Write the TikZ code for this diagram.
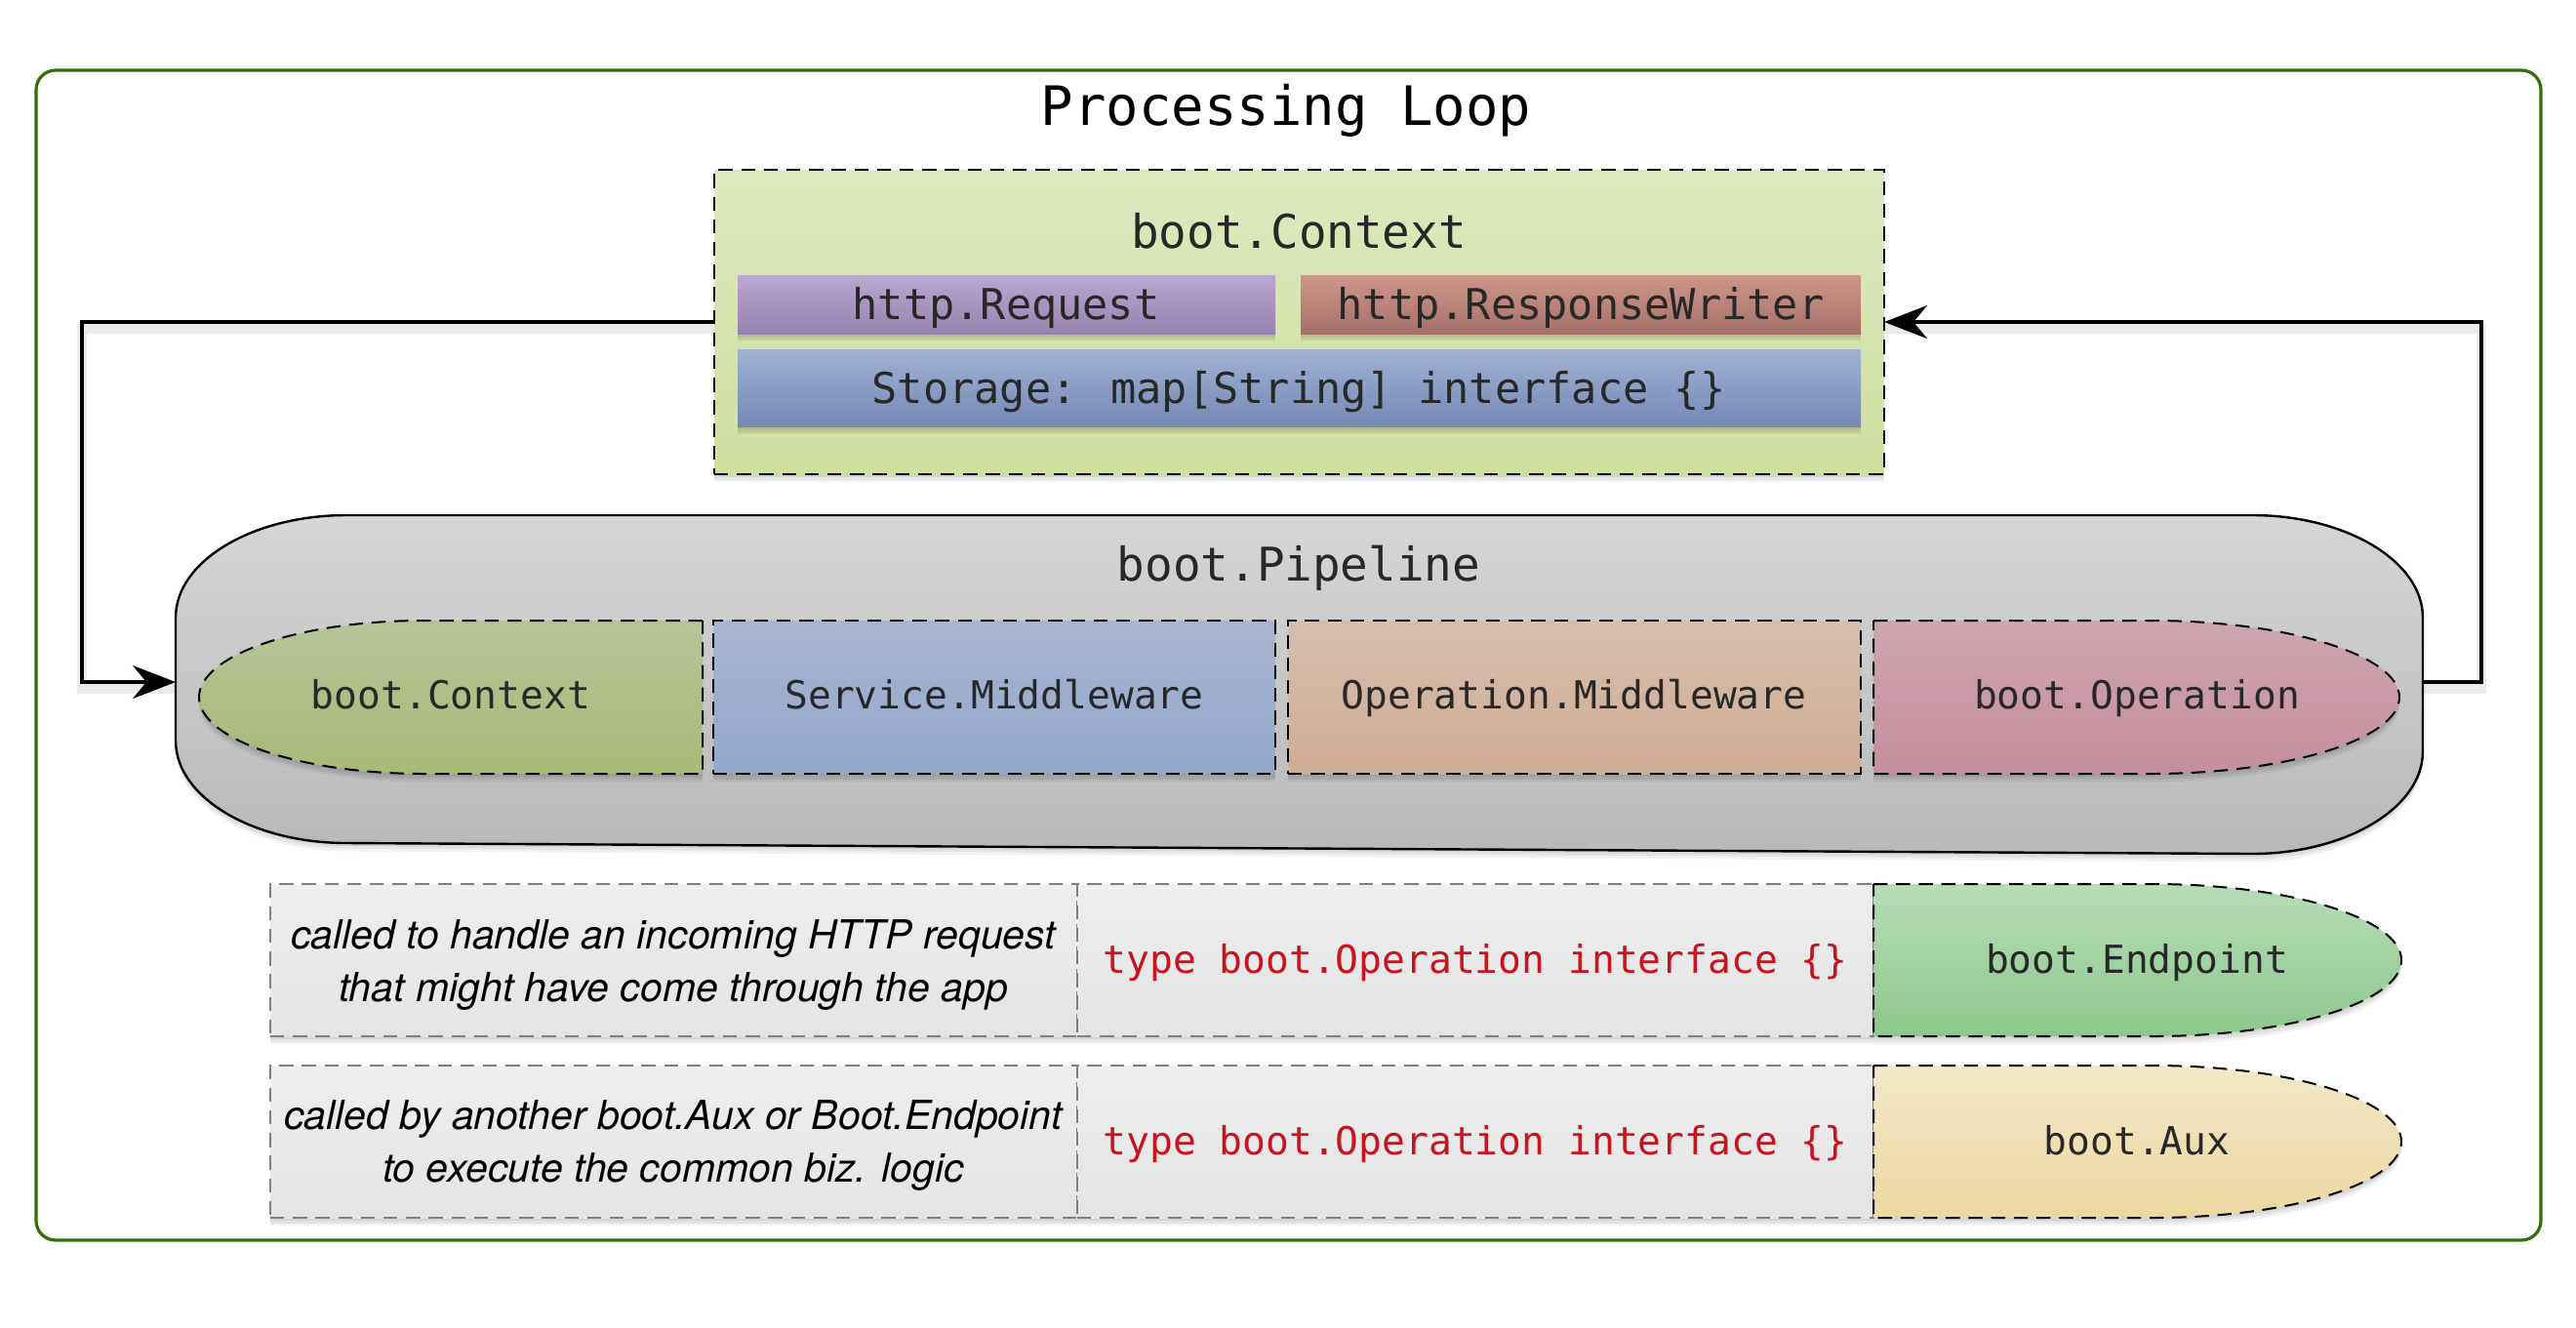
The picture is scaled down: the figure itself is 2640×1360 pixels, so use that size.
\documentclass[tikz,border=0pt]{standalone}
\usepackage{fontspec}
\newfontfamily\monof{DejaVu Sans Mono}
\newfontfamily\helvf{TeX Gyre Heros}
\usetikzlibrary{arrows.meta,fit,shadows}
\definecolor{framegreen}{RGB}{50,110,12}
\definecolor{txtdark}{RGB}{40,40,40}
\definecolor{ctxtop}{RGB}{222,232,192}
\definecolor{ctxbot}{RGB}{207,223,158}
\definecolor{reqtop}{RGB}{185,168,208}
\definecolor{reqbot}{RGB}{150,130,175}
\definecolor{rwtop}{RGB}{205,150,140}
\definecolor{rwbot}{RGB}{165,112,104}
\definecolor{sttop}{RGB}{162,178,212}
\definecolor{stbot}{RGB}{116,136,180}
\definecolor{pptop}{RGB}{214,214,214}
\definecolor{ppbot}{RGB}{184,184,184}
\definecolor{pctop}{RGB}{182,196,152}
\definecolor{pcbot}{RGB}{168,186,118}
\definecolor{smtop}{RGB}{170,180,208}
\definecolor{smbot}{RGB}{148,168,204}
\definecolor{omtop}{RGB}{212,190,174}
\definecolor{ombot}{RGB}{208,172,148}
\definecolor{botop}{RGB}{204,166,176}
\definecolor{bobot}{RGB}{198,142,158}
\definecolor{rowtop}{RGB}{238,238,238}
\definecolor{rowbot}{RGB}{228,228,228}
\definecolor{rowedge}{RGB}{128,128,128}
\definecolor{eptop}{RGB}{184,220,184}
\definecolor{epbot}{RGB}{140,200,140}
\definecolor{auxtop}{RGB}{242,232,200}
\definecolor{auxbot}{RGB}{236,216,160}
\definecolor{codered}{RGB}{200,20,30}
\begin{document}
\begin{tikzpicture}[x=0.25pt,y=-0.25pt,
  every node/.style={inner sep=0pt, outer sep=0pt},
  softshadow/.style={
    drop shadow={opacity=0.06, fill=black, shadow xshift=0pt, shadow yshift=-0.7pt},
    drop shadow={opacity=0.06, fill=black, shadow xshift=0pt, shadow yshift=-1.4pt},
    drop shadow={opacity=0.05, fill=black, shadow xshift=0pt, shadow yshift=-2.1pt}},
  dashbox/.style={draw=black, line width=0.5pt, dash pattern=on 3.6pt off 2.2pt},
  graybox/.style={draw=rowedge, line width=0.6pt, dash pattern=on 3.6pt off 2.2pt, top color=rowtop, bottom color=rowbot},
  conn/.style={line width=1pt, -{Stealth[length=11pt,width=8.5pt,inset=3.5pt]}, line join=miter},
  connshadow/.style={line width=2.4pt, draw=black, opacity=0.08},
  title/.style={font=\monof\fontsize{13.9}{16}\selectfont, text=black},
  hdr/.style={font=\monof\fontsize{11.9}{14}\selectfont, text=txtdark},
  mid/.style={font=\monof\fontsize{10.9}{13}\selectfont, text=txtdark},
  sml/.style={font=\monof\fontsize{9.9}{12}\selectfont, text=txtdark},
  code/.style={font=\monof\fontsize{9.9}{12}\selectfont, text=codered},
  note/.style={font=\helvf\itshape\fontsize{10.25}{13.5}\selectfont, align=center, text=black}
]
\useasboundingbox (0,0) rectangle (2640,1360);
\fill[white] (0,0) rectangle (2640,1360);

% outer frame
\node[fit={(37,72) (2604,1271)}, draw=framegreen, line width=0.8pt, rounded corners=5pt] (loop) {};
\node[title, anchor=base] (looplabel) at (1318,128) {Processing Loop};

% boot.Context container
\node[fit={(732,174) (1931,486)}, softshadow, dashbox, top color=ctxtop, bottom color=ctxbot] (ctx) {};
\node[hdr, anchor=base] (ctxlabel) at (1331,254) {boot.Context};
\node[fit={(756,282) (1307,342)}, softshadow, top color=reqtop, bottom color=reqbot] (req) {};
\node[mid, anchor=base] (reqlabel) at (1031,327) {http.Request};
\node[fit={(1333,282) (1907,342)}, softshadow, top color=rwtop, bottom color=rwbot] (rw) {};
\node[mid, anchor=base] (rwlabel) at (1620,327) {http.ResponseWriter};
\node[fit={(756,358) (1907,437)}, softshadow, top color=sttop, bottom color=stbot] (store) {};
\node[mid, anchor=base] (storelabel) at (1331,413) {Storage: map[String] interface \{\}};

% pipeline
\node[fit={(180,528) (2483,870)}] (pipe) {};
\path[softshadow, draw=black, line width=0.6pt, top color=pptop, bottom color=ppbot]
  (355,528) -- (2308,528) .. controls (2404,528) and (2483,575) .. (2483,633)
  -- (2483,770) .. controls (2483,828) and (2404,875) .. (2308,875)
  -- (355,864) .. controls (259,864) and (180,817) .. (180,759)
  -- (180,633) .. controls (180,575) and (259,528) .. (355,528) -- cycle;
\node[hdr, anchor=base] (pipelabel) at (1331,595) {boot.Pipeline};

\path[softshadow, dashbox, top color=pctop, bottom color=pcbot]
  (720,636) -- (434,636) .. controls (307,636) and (204,671.5) .. (204,714.5)
  .. controls (204,757.5) and (307,793) .. (434,793) -- (720,793) -- cycle;
\node[sml, anchor=base] (pctx) at (462,726) {boot.Context};
\node[fit={(731,636) (1307,793)}, softshadow, dashbox, top color=smtop, bottom color=smbot] (smw) {};
\node[sml, anchor=base] (smwlabel) at (1019,726) {Service.Middleware};
\node[fit={(1320,636) (1907,793)}, softshadow, dashbox, top color=omtop, bottom color=ombot] (omw) {};
\node[sml, anchor=base] (omwlabel) at (1613,726) {Operation.Middleware};
\path[softshadow, dashbox, top color=botop, bottom color=bobot]
  (1920,636) -- (2204,636) .. controls (2344,636) and (2459,671.5) .. (2459,714.5)
  .. controls (2459,757.5) and (2344,793) .. (2204,793) -- (1920,793) -- cycle;
\node[sml, anchor=base] (bop) at (2190,726) {boot.Operation};

% connectors
\coordinate (lbend) at (84,330);
\coordinate (rbend) at (2543,330);
\begin{scope}[transform canvas={yshift=-1.8pt}]
\draw[connshadow] (ctx.west) -- (lbend) |- (pipe.west);
\draw[connshadow] (pipe.east) -| (rbend) -- (ctx.east);
\end{scope}
\draw[conn] (ctx.west) -- (lbend) |- (pipe.west);
\draw[conn] (pipe.east) -| (rbend) -- (ctx.east);

% row 1
\node[fit={(277,906) (1104,1062)}, softshadow, graybox] (desc1) {};
\node[fit={(1104,906) (1920,1062)}, softshadow, graybox] (type1) {};
\node[note] (desc1label) at (690,989) {called to handle an incoming HTTP request\\that might have come through the app};
\node[code, anchor=base] (type1label) at (1512,997) {type boot.Operation interface \{\}};
\path[softshadow, dashbox, top color=eptop, bottom color=epbot]
  (1920,906) -- (2206,906) .. controls (2346,906) and (2461,941) .. (2461,984)
  .. controls (2461,1027) and (2346,1062) .. (2206,1062) -- (1920,1062) -- cycle;
\node[sml, anchor=base] (ep) at (2190,997) {boot.Endpoint};

% row 2
\node[fit={(277,1092) (1104,1248)}, softshadow, graybox] (desc2) {};
\node[fit={(1104,1092) (1920,1248)}, softshadow, graybox] (type2) {};
\node[note] (desc2label) at (690,1174) {called by another boot.Aux or Boot.Endpoint\\to execute the common biz. logic};
\node[code, anchor=base] (type2label) at (1512,1183) {type boot.Operation interface \{\}};
\path[softshadow, dashbox, top color=auxtop, bottom color=auxbot]
  (1920,1092) -- (2206,1092) .. controls (2346,1092) and (2461,1127) .. (2461,1170)
  .. controls (2461,1213) and (2346,1248) .. (2206,1248) -- (1920,1248) -- cycle;
\node[sml, anchor=base] (aux) at (2190,1183) {boot.Aux};
\end{tikzpicture}
\end{document}
